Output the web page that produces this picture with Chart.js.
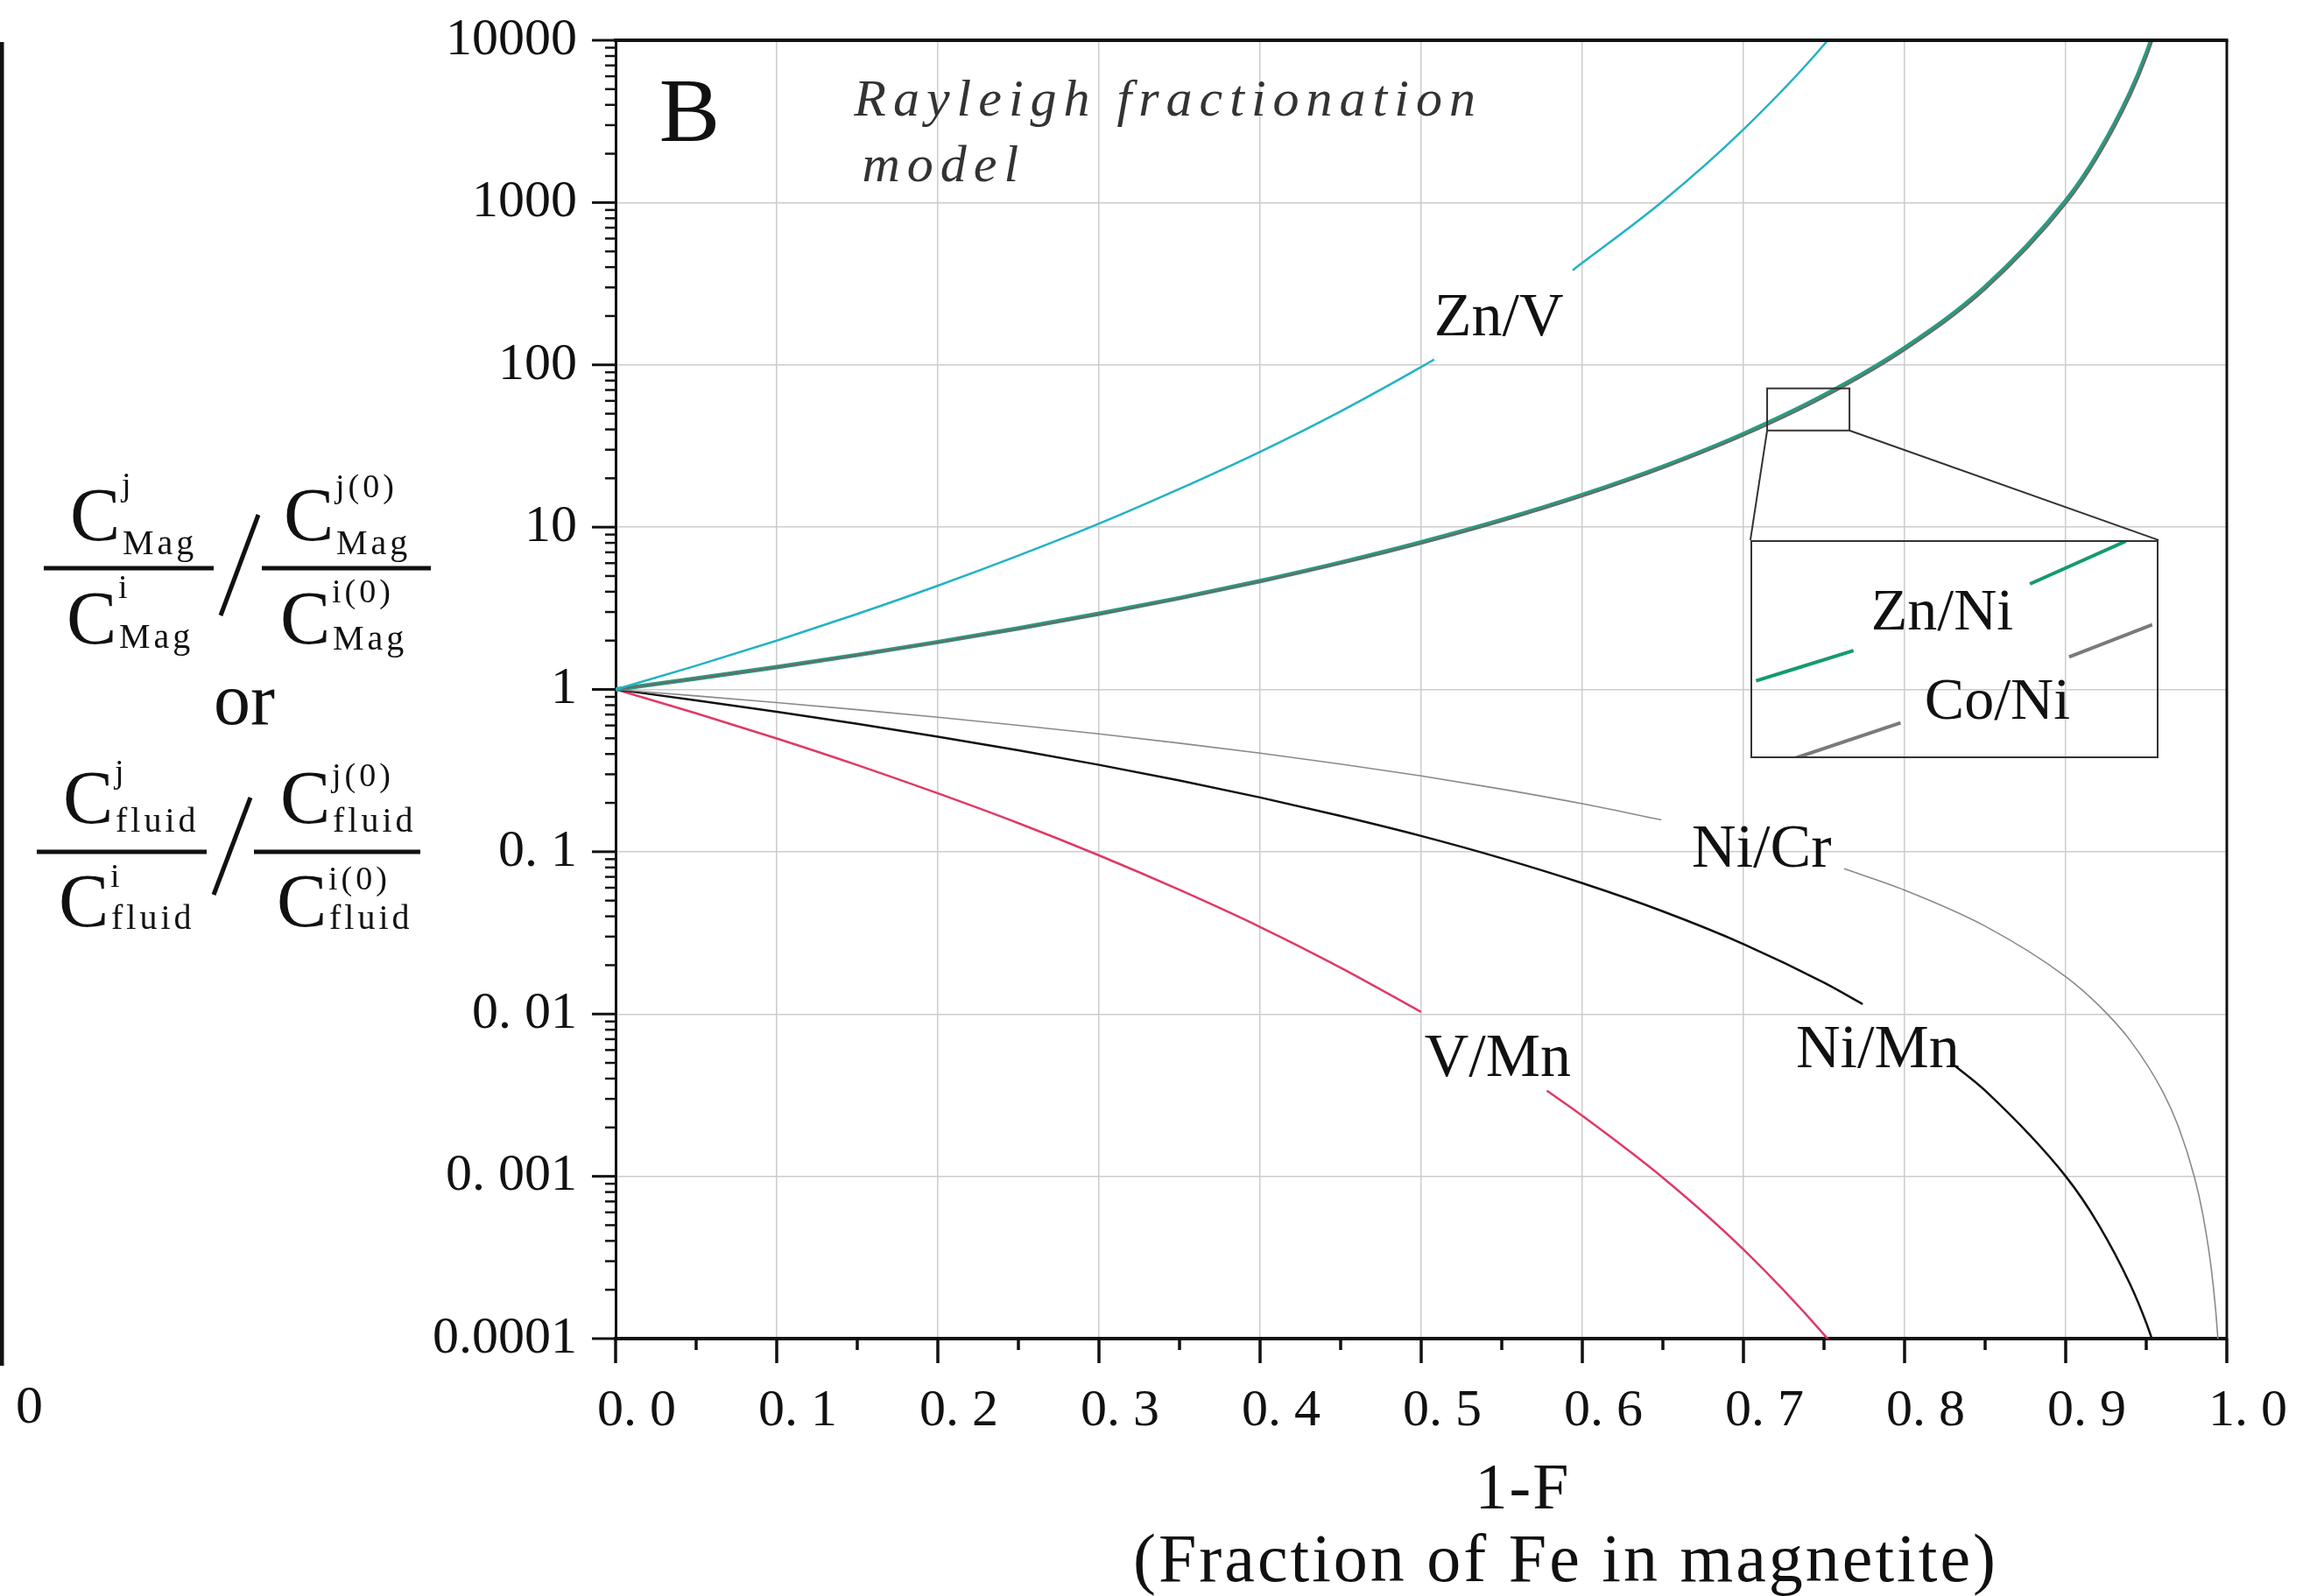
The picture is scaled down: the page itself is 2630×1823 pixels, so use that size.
<!DOCTYPE html>
<html>
<head>
<meta charset="utf-8">
<script src="https://cdn.jsdelivr.net/npm/chart.js@4.4.1/dist/chart.umd.min.js"></script>
<style>
  html, body { margin: 0; padding: 0; background: #fff; }
  #wrap { position: relative; width: 2630px; height: 1823px; }
  #mainChart { display: block; }
  #inset { position: absolute; display: block; }
</style>
</head>
<body>
<div id="wrap">
  <canvas id="mainChart" width="2630" height="1823"></canvas>
  <canvas id="inset"></canvas>
</div>
<script>
// axis ticks
var xTickValues = [0, 0.1, 0.2, 0.3, 0.4, 0.5, 0.6, 0.7, 0.8, 0.9, 1.0];
var xTickLabels = ['0. 0', '0. 1', '0. 2', '0. 3', '0. 4', '0. 5', '0. 6', '0. 7', '0. 8', '0. 9', '1. 0'];
var yTickValues = [0.0001, 0.001, 0.01, 0.1, 1, 10, 100, 1000, 10000];
var yTickLabels = ['0.0001', '0. 001', '0. 01', '0. 1', '1', '10', '100', '1000', '10000'];

// 1-F values (null = gap left for a label)
var znVX = [0, 0.05, 0.1, 0.15, 0.2, 0.25, 0.3, 0.35, 0.4, 0.45, 0.5, 0.508, 0.55, 0.594, 0.65, 0.7, 0.75, 0.8];
var znVY = [1, 1.40, 2.00, 2.92, 4.36, 6.68, 10.5, 17.2, 29.1, 51.7, 97, 108, null, 383, 1020, 2820, 9400, 41000];

var niX = [0, 0.05, 0.1, 0.15, 0.2, 0.25, 0.3, 0.35, 0.4, 0.45, 0.5, 0.55, 0.6, 0.65, 0.7, 0.75, 0.8, 0.85, 0.9, 0.92, 0.94, 0.95, 0.96];
var znNiY = [1, 1.167, 1.373, 1.631, 1.958, 2.377, 2.926, 3.657, 4.653, 6.046, 8.06, 11.06, 15.77, 23.57, 37.48, 64.9, 127.0, 301.9, 1023, 2003, 4760, 8240, 16140];
var coNiY = [1, 1.166, 1.370, 1.626, 1.949, 2.364, 2.905, 3.626, 4.606, 5.975, 7.94, 10.89, 15.48, 23.08, 36.60, 63.1, 123.0, 290.8, 977, 1905, 4500, 7760, 15130];

var niCrX = [0, 0.05, 0.1, 0.15, 0.2, 0.25, 0.3, 0.35, 0.4, 0.45, 0.5, 0.55, 0.6, 0.649, 0.70, 0.7625, 0.8, 0.85, 0.9, 0.92, 0.94, 0.96, 0.97, 0.98, 0.985, 0.99, 0.993, 0.995];
var niCrY = [1, 0.913, 0.830, 0.750, 0.674, 0.601, 0.532, 0.4665, 0.405, 0.347, 0.293, 0.243, 0.1975, 0.157, null, 0.0785, 0.058, 0.0348, 0.0170, 0.01144, 0.00688, 0.00336, 0.00202, 0.00098, 0.00059, 0.000288, 0.000153, 0.0000846];

var niMnX = [0, 0.05, 0.1, 0.15, 0.2, 0.25, 0.3, 0.35, 0.4, 0.45, 0.5, 0.55, 0.6, 0.65, 0.7, 0.75, 0.774, 0.80, 0.8315, 0.85, 0.9, 0.92, 0.94, 0.95, 0.96];
var niMnY = [1, 0.857, 0.729, 0.614, 0.512, 0.422, 0.343, 0.275, 0.216, 0.166, 0.125, 0.0911, 0.064, 0.0429, 0.027, 0.0156, 0.0115, null, 0.00478, 0.003375, 0.001, 0.000512, 0.000216, 0.000125, 0.000064];

var vMnX = [0, 0.05, 0.1, 0.15, 0.2, 0.25, 0.3, 0.35, 0.4, 0.45, 0.5, 0.54, 0.578, 0.6, 0.65, 0.7, 0.75, 0.78];
var vMnY = [1, 0.713, 0.499, 0.342, 0.229, 0.150, 0.095, 0.0582, 0.0344, 0.0193, 0.0103, null, 0.00337, 0.00236, 0.00098, 0.000354, 0.000106, 0.000046];

// magnified inset (Zn/Ni vs Co/Ni around 1-F = 0.74)
var insetZnNiX = [0.7154, 0.7276, 0.739, 0.7497, 0.7617];
var insetZnNiY = [48.7, 52.9, null, 63.5, 71.4];
var insetCoNiX = [0.7203, 0.7335, 0.744, 0.7546, 0.765];
var insetCoNiY = [39.4, 43.4, null, 52.0, 56.8];

var serif = "'Liberation Serif', 'Times New Roman', serif";

function pts(xs, ys) {
    return xs.map(function (x, i) { return { x: x, y: ys[i] }; });
}

function line(label, xs, ys, color, width) {
    return {
        label: label,
        data: pts(xs, ys),
        borderColor: color,
        borderWidth: width,
        pointRadius: 0,
        fill: false,
        spanGaps: false,
        cubicInterpolationMode: 'monotone'
    };
}

function txt(ctx, s, x, y, size, opts) {
    opts = opts || {};
    ctx.save();
    ctx.font = (opts.style || '') + ' ' + size + 'px ' + serif;
    ctx.letterSpacing = opts.spacing || '0px';
    ctx.textAlign = opts.align || 'left';
    ctx.textBaseline = 'alphabetic';
    ctx.fillStyle = opts.color || '#111';
    ctx.fillText(s, x, y);
    ctx.restore();
}

function seg(ctx, x1, y1, x2, y2, w, c) {
    ctx.save();
    ctx.strokeStyle = c || '#111';
    ctx.lineWidth = w;
    ctx.beginPath();
    ctx.moveTo(x1, y1);
    ctx.lineTo(x2, y2);
    ctx.stroke();
    ctx.restore();
}

// C with superscript and subscript
function cTerm(ctx, x, base, sup, supBase, sub, subBase) {
    txt(ctx, 'C', x, base, 86);
    txt(ctx, sup, x + 59, supBase, 38, { spacing: '4px' });
    txt(ctx, sub, x + 60, subBase, 40, { spacing: '4px' });
}

// where the inset box sits, in data units of the main chart
var zoomBox = { x0: 0.7147, x1: 0.7658, yLo: 39.4, yHi: 71.6 };
var insetFrame = { x0: 0.7043, x1: 0.9576, yLo: 0.376, yHi: 8.33 };

var decor = {
    id: 'decor',
    afterDraw: function (chart) {
        var ctx = chart.ctx;
        var a = chart.chartArea;
        var xs = chart.scales.x, ys = chart.scales.y;

        // frame top and right
        seg(ctx, a.left - 2, a.top, a.right + 1.5, a.top, 4);
        seg(ctx, a.right, a.top, a.right, a.bottom, 3);

        // y tick marks
        for (var e = -4; e <= 4; e++) {
            var py = ys.getPixelForValue(Math.pow(10, e));
            seg(ctx, a.left - 27, py, a.left, py, 3);
            if (e < 4) {
                for (var m = 2; m <= 9; m++) {
                    var pm = ys.getPixelForValue(m * Math.pow(10, e));
                    seg(ctx, a.left - 12, pm, a.left, pm, 2.5);
                }
            }
        }
        // x tick marks
        for (var i = 0; i <= 20; i++) {
            var px = xs.getPixelForValue(i * 0.05);
            seg(ctx, px, a.bottom, px, a.bottom + (i % 2 === 0 ? 28 : 13), 3.5);
        }

        // panel letter and model name
        txt(ctx, 'B', xs.getPixelForValue(0.027), ys.getPixelForValue(2393), 104);
        txt(ctx, 'Rayleigh fractionation', xs.getPixelForValue(0.148), ys.getPixelForValue(3428), 60, { style: 'italic', spacing: '8px', color: '#333' });
        txt(ctx, 'model', xs.getPixelForValue(0.153), ys.getPixelForValue(1349), 60, { style: 'italic', spacing: '8px', color: '#333' });

        // curve labels
        txt(ctx, 'Zn/V', xs.getPixelForValue(0.508), ys.getPixelForValue(153), 70);
        txt(ctx, 'Ni/Cr', xs.getPixelForValue(0.668), ys.getPixelForValue(0.0805), 70);
        txt(ctx, 'V/Mn', xs.getPixelForValue(0.502), ys.getPixelForValue(0.00417), 70);
        txt(ctx, 'Ni/Mn', xs.getPixelForValue(0.7326), ys.getPixelForValue(0.00472), 70);

        // zoom box and connectors to the inset
        var bx0 = xs.getPixelForValue(zoomBox.x0), bx1 = xs.getPixelForValue(zoomBox.x1);
        var by0 = ys.getPixelForValue(zoomBox.yHi), by1 = ys.getPixelForValue(zoomBox.yLo);
        ctx.save();
        ctx.strokeStyle = '#333';
        ctx.lineWidth = 2;
        ctx.strokeRect(bx0, by0, bx1 - bx0, by1 - by0);
        ctx.restore();
        var ix0 = xs.getPixelForValue(insetFrame.x0), ix1 = xs.getPixelForValue(insetFrame.x1);
        var iy0 = ys.getPixelForValue(insetFrame.yHi);
        seg(ctx, bx0, by1, ix0, iy0, 2, '#333');
        seg(ctx, bx1, by1, ix1, iy0, 2, '#333');

        // left panel edge and its last label
        seg(ctx, 2, 48, 2, 1560, 5);
        txt(ctx, '0', 18, 1625, 62);

        // y axis expression
        cTerm(ctx, 80, 617, 'j', 566, 'Mag', 633);
        cTerm(ctx, 76, 735, 'i', 683, 'Mag', 740);
        seg(ctx, 50, 649, 244, 649, 5);
        cTerm(ctx, 324, 617, 'j(0)', 568, 'Mag', 633);
        cTerm(ctx, 320, 735, 'i(0)', 688, 'Mag', 742);
        seg(ctx, 299, 649, 492, 649, 5);
        seg(ctx, 295, 588, 252, 703, 5);
        txt(ctx, 'or', 244, 827, 84);
        cTerm(ctx, 72, 940, 'j', 894, 'fluid', 950);
        cTerm(ctx, 67, 1058, 'i', 1013, 'fluid', 1061);
        seg(ctx, 42, 973, 236, 973, 5);
        cTerm(ctx, 320, 940, 'j(0)', 898, 'fluid', 950);
        cTerm(ctx, 316, 1058, 'i(0)', 1016, 'fluid', 1061);
        seg(ctx, 290, 973, 480, 973, 5);
        seg(ctx, 286, 911, 244, 1022, 5);

        // x axis title
        txt(ctx, '1-F', 1739, 1723, 74, { align: 'center', spacing: '2px' });
        txt(ctx, '(Fraction of Fe in magnetite)', 1788, 1806, 78, { align: 'center', spacing: '3px' });
    }
};

var mainChart = new Chart(document.getElementById('mainChart'), {
    type: 'line',
    data: {
        datasets: [
            line('Zn/V', znVX, znVY, '#22b2c4', 2.5),
            line('Co/Ni', niX, coNiY, '#6a6a6a', 2),
            line('Zn/Ni', niX, znNiY, '#2a9a80', 5),
            line('Ni/Cr', niCrX, niCrY, '#8a8a8a', 1.6),
            line('Ni/Mn', niMnX, niMnY, '#111111', 2.5),
            line('V/Mn', vMnX, vMnY, '#de3a66', 2.5)
        ]
    },
    options: {
        responsive: false,
        animation: false,
        layout: { padding: { left: 453, top: 46, right: 87, bottom: 164 } },
        plugins: { legend: { display: false }, tooltip: { enabled: false } },
        scales: {
            x: {
                type: 'linear',
                min: 0,
                max: 1,
                afterBuildTicks: function (s) { s.ticks = xTickValues.map(function (v) { return { value: v }; }); },
                afterFit: function (s) { s.height = 130; },
                ticks: {
                    autoSkip: false,
                    maxRotation: 0,
                    padding: 0,
                    labelOffset: 24,
                    color: '#111',
                    font: { family: serif, size: 60 },
                    callback: function (v, i) { return xTickLabels[i]; }
                },
                grid: { color: '#cccccc', lineWidth: 1.5, drawTicks: true, tickLength: 47, tickColor: 'rgba(0,0,0,0)' },
                border: { color: '#111', width: 4 }
            },
            y: {
                type: 'logarithmic',
                min: 0.0001,
                max: 10000,
                afterBuildTicks: function (s) { s.ticks = yTickValues.map(function (v) { return { value: v }; }); },
                afterFit: function (s) { s.width = 250; },
                ticks: {
                    autoSkip: false,
                    padding: 0,
                    color: '#111',
                    font: { family: serif, size: 60 },
                    callback: function (v, i) { return yTickLabels[i]; }
                },
                grid: { color: '#cccccc', lineWidth: 1.5, drawTicks: true, tickLength: 44, tickColor: 'rgba(0,0,0,0)' },
                border: { color: '#111', width: 3 }
            }
        }
    },
    plugins: [decor]
});

// inset placed over the main chart with its own scales
var mx = mainChart.scales.x, my = mainChart.scales.y;
var insetLeft = Math.round(mx.getPixelForValue(insetFrame.x0));
var insetTop = Math.round(my.getPixelForValue(insetFrame.yHi));
var insetW = Math.round(mx.getPixelForValue(insetFrame.x1)) - insetLeft;
var insetH = Math.round(my.getPixelForValue(insetFrame.yLo)) - insetTop;
var insetCanvas = document.getElementById('inset');
insetCanvas.width = insetW;
insetCanvas.height = insetH;
insetCanvas.style.left = insetLeft + 'px';
insetCanvas.style.top = insetTop + 'px';
insetCanvas.style.width = insetW + 'px';
insetCanvas.style.height = insetH + 'px';

var insetDecor = {
    id: 'insetDecor',
    afterDraw: function (chart) {
        var ctx = chart.ctx;
        var xs = chart.scales.x, ys = chart.scales.y;
        ctx.save();
        ctx.strokeStyle = '#333';
        ctx.lineWidth = 2;
        ctx.strokeRect(1, 1, chart.width - 2, chart.height - 2);
        ctx.restore();
        txt(ctx, 'Zn/Ni', xs.getPixelForValue(0.7298), ys.getPixelForValue(56.1), 68);
        txt(ctx, 'Co/Ni', xs.getPixelForValue(0.7365), ys.getPixelForValue(43.9), 68);
    }
};

var insetChart = new Chart(insetCanvas, {
    type: 'line',
    data: {
        datasets: [
            line('Zn/Ni', insetZnNiX, insetZnNiY, '#159a6c', 4),
            line('Co/Ni', insetCoNiX, insetCoNiY, '#7a7a7a', 4)
        ]
    },
    options: {
        responsive: false,
        animation: false,
        layout: { padding: 0 },
        plugins: { legend: { display: false }, tooltip: { enabled: false } },
        scales: {
            x: { type: 'linear', min: zoomBox.x0, max: zoomBox.x1, display: false },
            y: { type: 'logarithmic', min: zoomBox.yLo, max: zoomBox.yHi, display: false }
        }
    },
    plugins: [insetDecor]
});
</script>
</body>
</html>
